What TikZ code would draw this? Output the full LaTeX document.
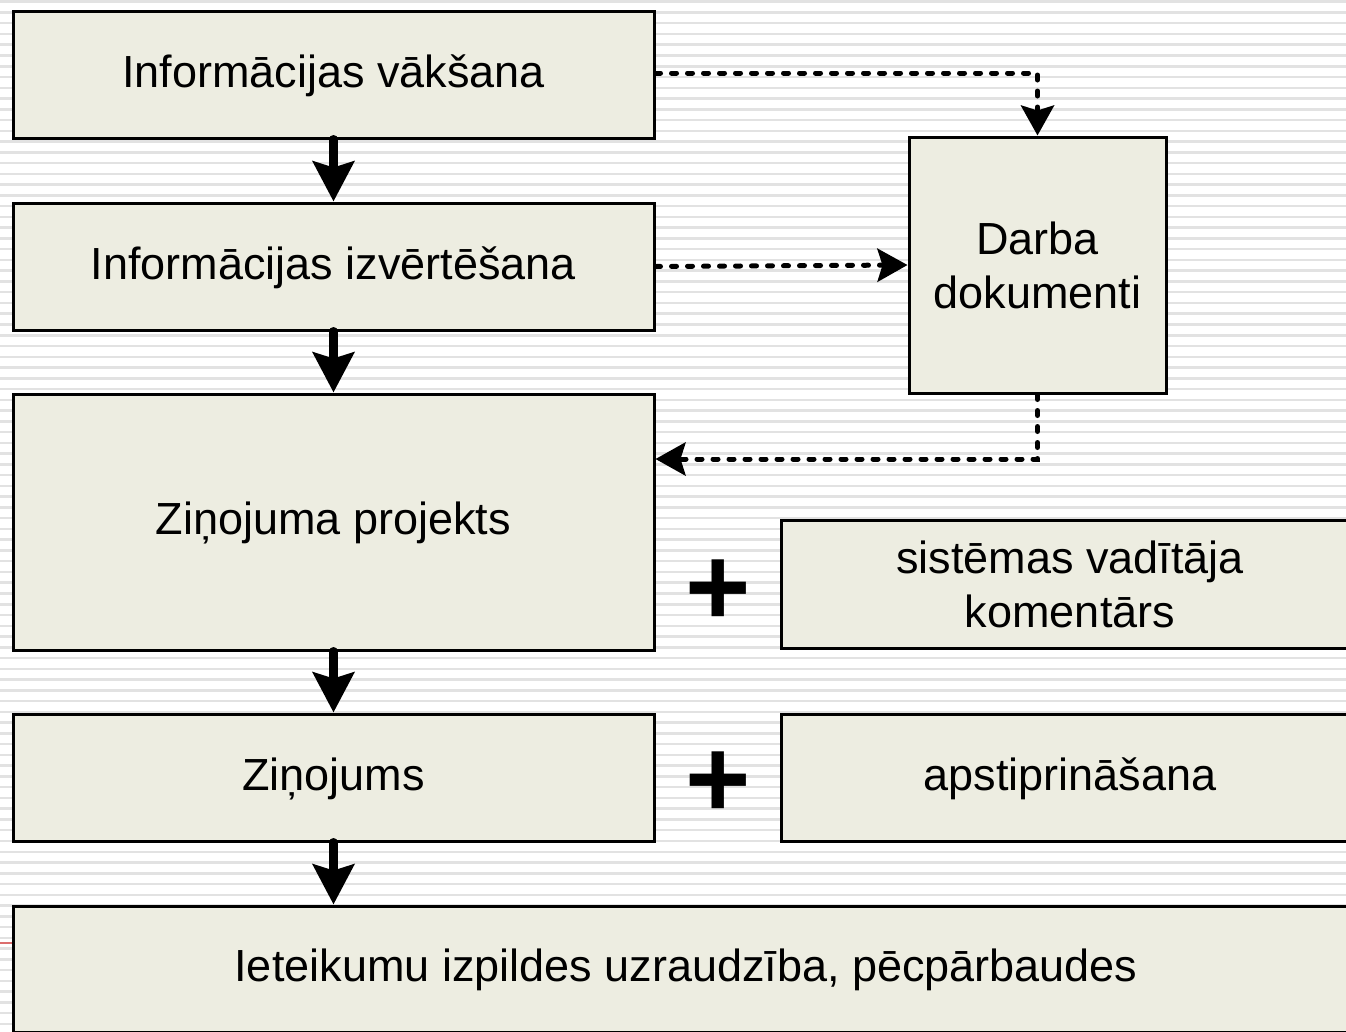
\documentclass[tikz,border=0pt]{standalone}
\usepackage{fontspec}
\setmainfont{Liberation Sans}
\usetikzlibrary{arrows.meta}
\definecolor{boxfill}{RGB}{237,237,225}
\definecolor{stripe}{RGB}{226,226,226}
\definecolor{redline}{RGB}{220,110,110}
\tikzset{
  procbox/.style={draw=black, line width=3pt, fill=boxfill, inner sep=0pt, align=center,
    font=\fontsize{45}{54}\selectfont},
  oneline/.style={text height=32pt, text depth=7pt},
  thickarrow/.style={line width=9pt, line cap=round, -{Stealth[length=40pt,width=41pt,inset=6pt]}},
  dotarrow/.style={line width=5pt, line cap=round, dash pattern=on 5pt off 11pt,
    -{Stealth[length=30pt,width=33pt,inset=5pt]}},
  plussign/.style={font=\fontsize{112}{112}\selectfont\bfseries, inner sep=0pt}
}
\begin{document}
\begin{tikzpicture}[x=1pt,y=-1pt]
\useasboundingbox (0,0) rectangle (1346,1031);
\clip (0,0) rectangle (1346,1031);
\fill[white] (0,0) rectangle (1346,1031);
\foreach \i in {0,...,96} {
  \draw[stripe, line width=2.5pt] (0,{1.7+10.76*\i}) -- (1346,{1.7+10.76*\i});
}
\draw[redline, line width=1.5pt] (0,943) -- (13,943);

\node[procbox, oneline, minimum width=641pt, minimum height=127pt] (b1) at (333.5,74.5) {Informācijas vākšana};
\node[procbox, oneline, minimum width=641pt, minimum height=127pt] (b2) at (333.5,266.5) {Informācijas izvērtēšana};
\node[procbox, oneline, minimum width=641pt, minimum height=256pt] (b3) at (333.5,522) {Ziņojuma projekts};
\node[procbox, oneline, minimum width=641pt, minimum height=127pt] (b4) at (333.5,777.5) {Ziņojums};
\node[procbox, oneline, minimum width=1346pt, minimum height=126pt] (b5) at (686,969) {Ieteikumu izpildes uzraudzība, pēcpārbaudes};
\node[procbox, minimum width=257pt, minimum height=256pt] (darba) at (1037.5,265) {Darba\\dokumenti};
\node[procbox, minimum width=578pt, minimum height=128pt] (kom) at (1070,584) {sistēmas vadītāja\\komentārs};
\node[procbox, oneline, minimum width=578pt, minimum height=127pt] (aps) at (1070,777.5) {apstiprināšana};

\node[plussign] (p1) at (718,593) {+};
\node[plussign] (p2) at (718,785) {+};

\draw[thickarrow] (b1.south) -- (b2.north);
\draw[thickarrow] (b2.south) -- (b3.north);
\draw[thickarrow] (b3.south) -- (b4.north);
\draw[thickarrow] (b4.south) -- (b4.south |- b5.north);

\draw[dotarrow] ([yshift=1.5pt]b1.east) -| (darba.north);
\draw[dotarrow] (b2.east) -- (darba.west);
\draw[dotarrow] (darba.south) |- ([yshift=63pt]b3.east);
\end{tikzpicture}
\end{document}
